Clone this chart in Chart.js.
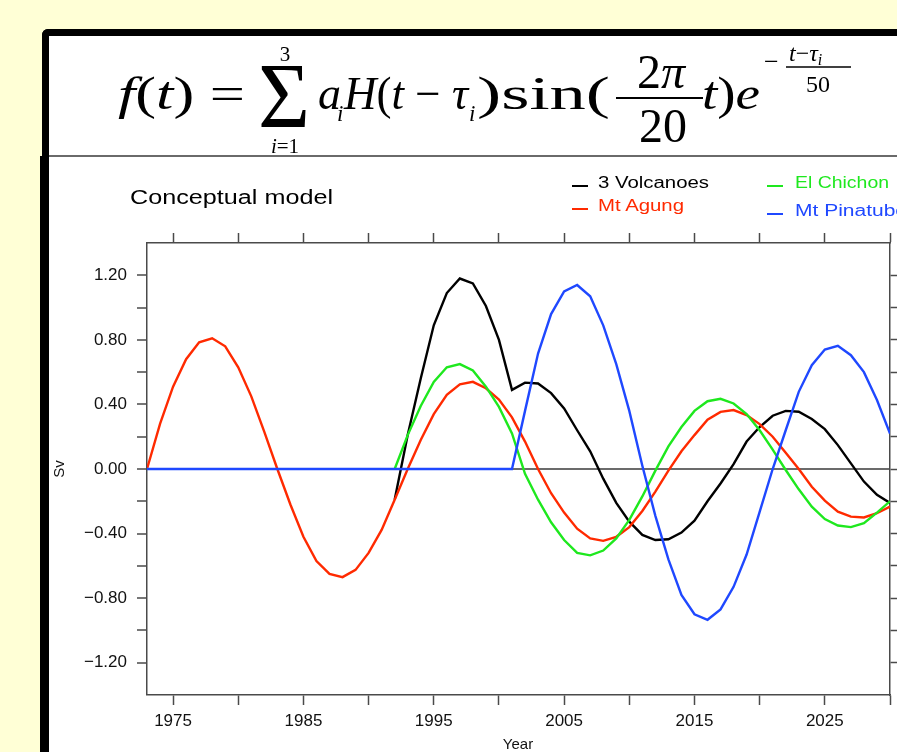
<!DOCTYPE html>
<html>
<head>
<meta charset="utf-8">
<script src="https://cdn.jsdelivr.net/npm/chart.js@4"></script>
<style>
  html, body { margin: 0; padding: 0; }
  body { width: 897px; height: 752px; overflow: hidden; background: #FFFFD6; position: relative; }
  #panel { position: absolute; left: 42px; top: 29px; width: 900px; height: 800px; background: #fff;
           border-left: 7px solid #000; border-top: 7px solid #000; border-top-left-radius: 6px; }
  #sep { position: absolute; left: 49px; top: 155px; width: 860px; height: 2px; background: #6a6a6a; }
  #lowborder { position: absolute; left: 40px; top: 156px; width: 9px; height: 600px; background: #000; }
  #c { position: absolute; left: 49px; top: 157px; }
  #ov { position: absolute; left: 0; top: 0; }
</style>
</head>
<body>
<div id="panel"></div>
<div id="sep"></div>
<div id="lowborder"></div>
<canvas id="c" width="848" height="595"></canvas>
<svg id="ov" width="897" height="752" xmlns="http://www.w3.org/2000/svg">
  <g font-family="Liberation Serif, Times New Roman, serif" fill="#000">
    <text x="118" y="109" font-size="46" textLength="127" lengthAdjust="spacingAndGlyphs"><tspan font-style="italic">f</tspan>(<tspan font-style="italic">t</tspan>) =</text>
    <text x="258" y="127" font-size="94" textLength="52" lengthAdjust="spacingAndGlyphs">Σ</text>
    <text x="285" y="61" font-size="21" text-anchor="middle">3</text>
    <text x="285" y="153" font-size="21" text-anchor="middle"><tspan font-style="italic">i</tspan>=1</text>
    <text x="318" y="109" font-size="46" font-style="italic">a</text>
    <text x="337" y="121" font-size="23" font-style="italic">i</text>
    <text x="344" y="109" font-size="46" textLength="124" lengthAdjust="spacingAndGlyphs"><tspan font-style="italic">H</tspan>(<tspan font-style="italic">t</tspan> − <tspan font-style="italic">τ</tspan></text>
    <text x="469" y="121" font-size="23" font-style="italic">i</text>
    <text x="477" y="109" font-size="46" textLength="133" lengthAdjust="spacingAndGlyphs">)sin(</text>
    <text x="661" y="88" font-size="48" text-anchor="middle">2<tspan font-style="italic">π</tspan></text>
    <line x1="616" y1="98" x2="703" y2="98" stroke="#000" stroke-width="2"/>
    <text x="663" y="142" font-size="48" text-anchor="middle">20</text>
    <text x="702" y="109" font-size="46" textLength="58" lengthAdjust="spacingAndGlyphs"><tspan font-style="italic">t</tspan>)<tspan font-style="italic">e</tspan></text>
    <text x="764" y="70" font-size="26">−</text>
    <text x="789" y="61" font-size="24"><tspan font-style="italic">t</tspan>−<tspan font-style="italic">τ</tspan><tspan font-style="italic" font-size="16" dy="4">i</tspan></text>
    <line x1="786" y1="67" x2="851" y2="67" stroke="#000" stroke-width="1.6"/>
    <text x="818" y="92" font-size="24" text-anchor="middle">50</text>
  </g>
  <g id="txt" font-family="Liberation Sans, Arial, sans-serif"></g>
</svg>
<script>
// ---------------- data ----------------
const years = [1973,1974,1975,1976,1977,1978,1979,1980,1981,1982,1983,1984,1985,1986,1987,1988,1989,1990,1991,1992,
  1993,1994,1995,1996,1997,1998,1999,2000,2001,2002,2003,2004,2005,2006,2007,2008,2009,2010,2011,2012,
  2013,2014,2015,2016,2017,2018,2019,2020,2021,2022,2023,2024,2025,2026,2027,2028,2029,2030];

const seriesNames = ["3 Volcanoes", "Mt Agung", "El Chichon", "Mt Pinatubo"];

const threeVolcanoes = [null,null,null,null,null,null,null,null,null,null,null,null,null,null,null,null,null,null,null,-0.19,
  0.21,0.56,0.89,1.09,1.18,1.15,1.01,0.80,0.49,0.535,0.53,0.47,0.375,0.24,0.11,-0.06,-0.21,-0.326,-0.408,-0.44,
  -0.435,-0.394,-0.32,-0.20,-0.09,0.03,0.17,0.26,0.33,0.36,0.355,0.31,0.247,0.148,0.035,-0.078,-0.16,-0.21];

const mtAgung = [0.00,0.28,0.51,0.68,0.785,0.81,0.76,0.63,0.45,0.23,0.00,-0.22,-0.42,-0.57,-0.65,-0.67,-0.625,-0.52,-0.377,-0.19,
  0.00,0.18,0.34,0.46,0.525,0.54,0.50,0.43,0.32,0.17,0.00,-0.15,-0.27,-0.37,-0.43,-0.445,-0.42,-0.36,-0.26,-0.14,
  -0.01,0.11,0.21,0.305,0.354,0.365,0.334,0.278,0.20,0.10,0.00,-0.11,-0.196,-0.264,-0.295,-0.30,-0.274,-0.233];

const elChichon = [null,null,null,null,null,null,null,null,null,null,null,null,null,null,null,null,null,null,null,0.00,
  0.21,0.39,0.54,0.63,0.65,0.61,0.51,0.385,0.22,-0.03,-0.19,-0.33,-0.44,-0.52,-0.535,-0.505,-0.43,-0.315,-0.17,-0.01,
  0.14,0.26,0.36,0.42,0.435,0.406,0.34,0.24,0.12,-0.006,-0.126,-0.233,-0.31,-0.35,-0.36,-0.336,-0.27,-0.20];

const mtPinatubo = [0,0,0,0,0,0,0,0,0,0,0,0,0,0,0,0,0,0,0,0,
  0,0,0,0,0,0,0,0,0,0.36,0.715,0.96,1.10,1.14,1.07,0.89,0.65,0.36,0.02,-0.29,
  -0.56,-0.78,-0.90,-0.934,-0.87,-0.73,-0.53,-0.265,0.00,0.24,0.478,0.643,0.74,0.763,0.705,0.60,0.427,0.22];

const xTickValues = [1975,1980,1985,1990,1995,2000,2005,2010,2015,2020,2025,2030];
const xTickLabels = ["1975","","1985","","1995","","2005","","2015","","2025",""];
const yTickValues = [-1.2,-1.0,-0.8,-0.6,-0.4,-0.2,0,0.2,0.4,0.6,0.8,1.0,1.2];
const yTickLabels = ["−1.20","","−0.80","","−0.40","","0.00","","0.40","","0.80","","1.20"];

const titleText = "Conceptual model";
const xTitle = "Year";
const yTitle = "Sv";
const colors = ["#000000", "#ff2a00", "#1ee81e", "#1f48ff"];

// ---------------- chart ----------------
const pts = arr => years.map((yr, i) => ({ x: yr, y: arr[i] }));
const AX = '#4a4a4a';
const fixTicks = vals => scale => { scale.ticks = vals.map(v => ({ value: v })); };

new Chart(document.getElementById('c'), {
  type: 'line',
  data: {
    datasets: [
      { label: seriesNames[0], data: pts(threeVolcanoes), borderColor: colors[0], order: 4 },
      { label: seriesNames[1], data: pts(mtAgung), borderColor: colors[1], order: 3 },
      { label: seriesNames[2], data: pts(elChichon), borderColor: colors[2], order: 2 },
      { label: seriesNames[3], data: pts(mtPinatubo), borderColor: colors[3], order: 1 }
    ]
  },
  options: {
    responsive: false, animation: false, devicePixelRatio: 1,
    elements: { point: { radius: 0 }, line: { borderWidth: 2.4, tension: 0 } },
    layout: { padding: { top: 76, left: 0, right: 0, bottom: 0 } },
    plugins: { legend: { display: false }, tooltip: { enabled: false } },
    scales: {
      x: {
        type: 'linear', position: 'bottom', min: 1973, max: 2030,
        afterBuildTicks: fixTicks(xTickValues),
        afterFit: s => { s.height = 57; },
        ticks: { autoSkip: false, maxRotation: 0, padding: 6, color: '#111',
                 font: { family: 'Liberation Sans', size: 17 },
                 callback: (v, i) => xTickLabels[i] },
        grid: { drawOnChartArea: false, tickLength: 10, tickColor: AX, tickWidth: 1.5 },
        border: { display: true, color: AX, width: 1.5 }
      },
      x2: {
        type: 'linear', position: 'top', min: 1973, max: 2030,
        afterBuildTicks: fixTicks(xTickValues),
        afterFit: s => { s.height = 10; },
        ticks: { display: false },
        grid: { drawOnChartArea: false, tickLength: 10, tickColor: AX, tickWidth: 1.5 },
        border: { display: true, color: AX, width: 1.5 }
      },
      y: {
        type: 'linear', position: 'left', min: -1.4, max: 1.4,
        afterBuildTicks: fixTicks(yTickValues),
        afterFit: s => { s.width = 98; },
        ticks: { autoSkip: false, padding: 10, color: '#111',
                 font: { family: 'Liberation Sans', size: 17 },
                 callback: (v, i) => yTickLabels[i] },
        grid: { drawOnChartArea: true, tickLength: 10, tickColor: AX, tickWidth: 1.5,
                color: c => (c.tick && Math.abs(c.tick.value) < 1e-9) ? '#6b6b6b' : 'rgba(0,0,0,0)',
                lineWidth: c => (c.tick && Math.abs(c.tick.value) < 1e-9) ? 2 : 0 },
        border: { display: true, color: AX, width: 1.5 }
      },
      y2: {
        type: 'linear', position: 'right', min: -1.4, max: 1.4,
        afterBuildTicks: fixTicks(yTickValues),
        afterFit: s => { s.width = 7; },
        ticks: { display: false },
        grid: { drawOnChartArea: false, tickLength: 10, tickColor: AX, tickWidth: 1.5 },
        border: { display: true, color: AX, width: 1.5 }
      }
    }
  }
});

// ---------------- text overlay (title, legend, axis titles) ----------------
const NS = 'http://www.w3.org/2000/svg';
const g = document.getElementById('txt');
function addText(str, x, y, size, color, len, extra) {
  const t = document.createElementNS(NS, 'text');
  t.setAttribute('x', x); t.setAttribute('y', y);
  t.setAttribute('font-size', size); t.setAttribute('fill', color);
  if (len) { t.setAttribute('textLength', len); t.setAttribute('lengthAdjust', 'spacingAndGlyphs'); }
  if (extra) for (const k in extra) t.setAttribute(k, extra[k]);
  t.textContent = str; g.appendChild(t); return t;
}
function addLine(x1, y1, x2, y2, color) {
  const l = document.createElementNS(NS, 'line');
  l.setAttribute('x1', x1); l.setAttribute('y1', y1); l.setAttribute('x2', x2); l.setAttribute('y2', y2);
  l.setAttribute('stroke', color); l.setAttribute('stroke-width', 2); g.appendChild(l);
}
addText(titleText, 130, 204, 20, '#000', 203);
// legend
const legend = [
  { i: 0, lx: 572, ly: 186, tx: 598, ty: 188, len: 111 },
  { i: 1, lx: 572, ly: 209, tx: 598, ty: 211, len: 86 },
  { i: 2, lx: 767, ly: 186, tx: 795, ty: 188, len: 94 },
  { i: 3, lx: 767, ly: 214, tx: 795, ty: 216, len: 112 }
];
legend.forEach(e => {
  addLine(e.lx, e.ly, e.lx + 16, e.ly, colors[e.i]);
  addText(seriesNames[e.i], e.tx, e.ty, 16, colors[e.i], e.len);
});
addText(xTitle, 518, 749, 15, '#111', 0, { 'text-anchor': 'middle' });
addText(yTitle, 0, 0, 15, '#111', 0, { 'text-anchor': 'middle', transform: 'translate(64,469) rotate(-90)' });
</script>
</body>
</html>
